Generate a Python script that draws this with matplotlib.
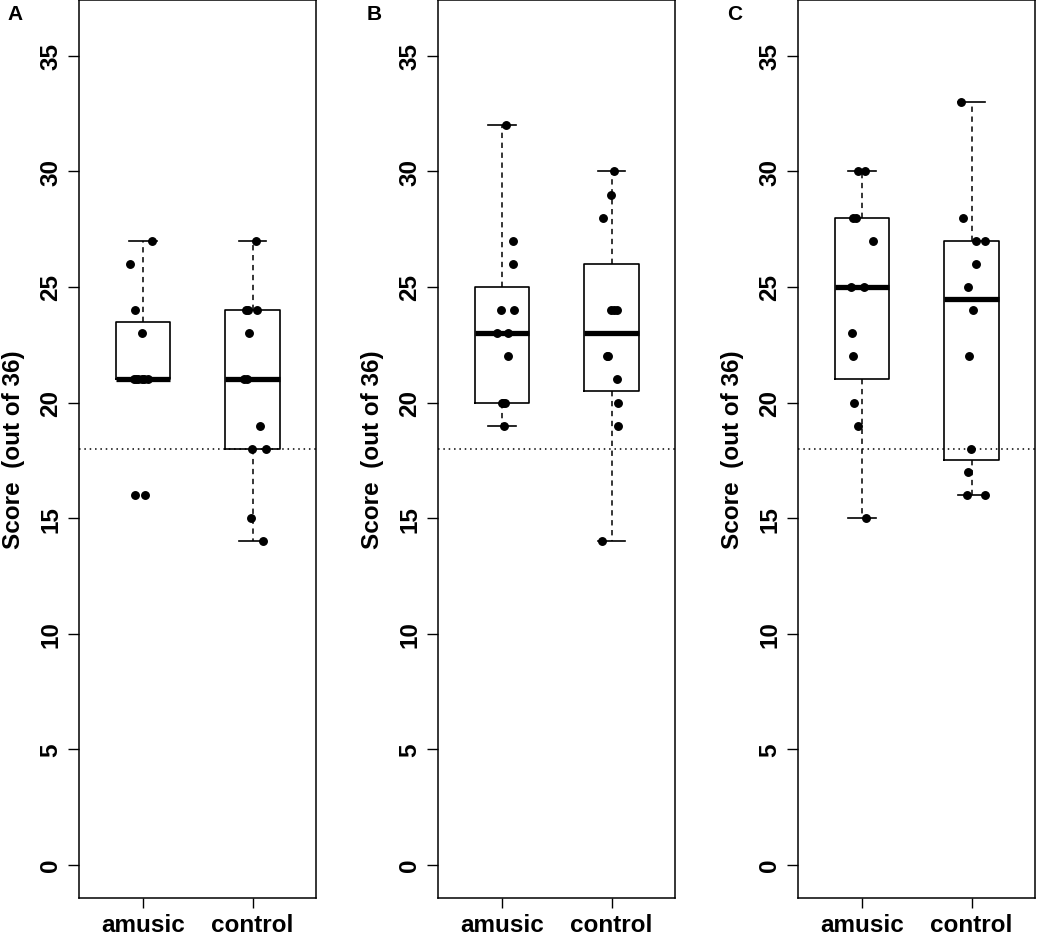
import numpy as np
import matplotlib
matplotlib.use('Agg')
import matplotlib.pyplot as plt

plt.rcParams['font.family'] = ['Liberation Sans', 'DejaVu Sans']
plt.rcParams['font.weight'] = 'bold'

# Scores per panel and group (out of 36)
groups = ['amusic', 'control']
panel_labels = ['A', 'B', 'C']

a_amusic = [16, 16, 21, 21, 21, 21, 21, 21, 23, 24, 26, 27]
a_control = [14, 15, 18, 18, 19, 21, 21, 23, 24, 24, 24, 27]
b_amusic = [19, 20, 20, 20, 22, 23, 23, 24, 24, 26, 27, 32]
b_control = [14, 19, 20, 21, 22, 22, 24, 24, 24, 28, 29, 30]
c_amusic = [15, 19, 20, 22, 23, 25, 25, 27, 28, 28, 30, 30]
c_control = [16, 16, 17, 18, 22, 24, 25, 26, 27, 27, 28, 33]

# horizontal jitter of the dots
a_amusic_jit = [-0.076, 0.022, -0.085, -0.064, -0.048, -0.009, 0.009, 0.043, -0.008, -0.076, -0.115, 0.082]
a_control_jit = [0.091, -0.012, -0.005, 0.122, 0.070, -0.077, -0.055, -0.036, -0.064, -0.041, 0.040, 0.031]
b_amusic_jit = [0.022, 0.000, 0.013, 0.027, 0.058, -0.047, 0.053, -0.011, 0.110, 0.104, 0.104, 0.035]
b_control_jit = [-0.085, 0.061, 0.061, 0.049, -0.045, -0.036, -0.008, 0.018, 0.046, -0.078, -0.005, 0.022]
c_amusic_jit = [0.037, -0.033, -0.069, -0.084, -0.088, -0.099, 0.019, 0.098, -0.082, -0.055, -0.038, 0.028]
c_control_jit = [-0.045, 0.125, -0.030, -0.008, -0.021, 0.015, -0.036, 0.040, 0.037, 0.122, -0.081, -0.099]

chance = 18

panels = [
    (a_amusic, a_control, a_amusic_jit, a_control_jit),
    (b_amusic, b_control, b_amusic_jit, b_control_jit),
    (c_amusic, c_control, c_amusic_jit, c_control_jit),
]


def fivenum(x):
    # Tukey hinges, like R's boxplot
    x = np.sort(np.asarray(x, dtype=float))
    n = len(x)
    n4 = np.floor((n + 3) / 2) / 2
    d = np.array([1, n4, (n + 1) / 2, n + 1 - n4, n]) - 1
    return 0.5 * (x[np.floor(d).astype(int)] + x[np.ceil(d).astype(int)])


def box_stats(x):
    lo, q1, med, q3, hi = fivenum(x)
    iqr = q3 - q1
    arr = np.asarray(x, dtype=float)
    inside = arr[(arr >= q1 - 1.5 * iqr) & (arr <= q3 + 1.5 * iqr)]
    return dict(med=med, q1=q1, q3=q3, whislo=inside.min(), whishi=inside.max(), fliers=[])


W, H = 1037, 937
fig = plt.figure(figsize=(W / 100, H / 100), dpi=100)

lefts = [79.3, 438.3, 798.3]
ax_w = 237
ax_bottom = 899
ax_top = 0.5
fs = 17.5

for i, (am, co, jam, jco) in enumerate(panels):
    ax = fig.add_axes([lefts[i] / W, (H - ax_bottom) / H, ax_w / W, (ax_bottom - ax_top) / H])
    stats = [box_stats(am), box_stats(co)]
    ax.bxp(stats, positions=[1, 2], widths=0.5, capwidths=0.25, showfliers=False,
           boxprops=dict(color='black', linewidth=1.2),
           medianprops=dict(color='black', linewidth=3.8, solid_capstyle='butt'),
           whiskerprops=dict(color='black', linewidth=1.1, linestyle=(0, (3.5, 3))),
           capprops=dict(color='black', linewidth=1.2))
    ax.axhline(chance, color='black', linewidth=1.1, linestyle=(0, (1, 2.5)))
    ax.plot(1 + np.array(jam), am, 'o', color='black', markersize=5.4, zorder=5)
    ax.plot(2 + np.array(jco), co, 'o', color='black', markersize=5.4, zorder=5)

    ax.set_xlim(0.42, 2.58)
    ax.set_ylim(-1.44, 37.44)
    ax.set_xticks([1, 2])
    ax.set_xticklabels(groups, fontsize=fs, fontweight='bold')
    ax.set_yticks(range(0, 36, 5))
    ax.set_yticklabels([str(v) for v in range(0, 36, 5)], fontsize=fs, fontweight='bold',
                       rotation=90, va='center')
    ax.tick_params(axis='y', length=7.7, width=1, pad=4.5)
    ax.tick_params(axis='x', length=7.5, width=1, pad=3)
    for s in ax.spines.values():
        s.set_linewidth(1.1)
    ax.set_ylabel('Score  (out of 36)', fontsize=fs, fontweight='bold')
    ax.yaxis.set_label_coords(-54.5 / ax_w, 0.5)

    fig.text((lefts[i] - 64) / W, 1 - 15 / H, panel_labels[i], fontsize=15,
             fontweight='bold', ha='center', va='center')

fig.savefig('out.png', dpi=100)
